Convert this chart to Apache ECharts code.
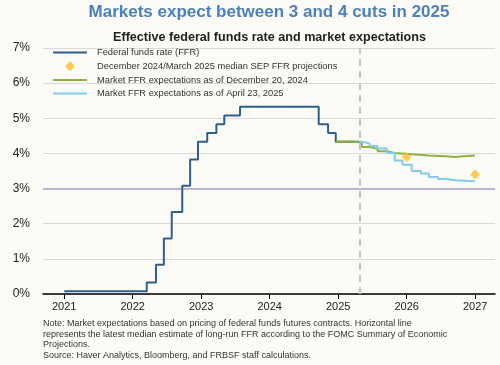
<!DOCTYPE html>
<html><head><meta charset="utf-8">
<script src="https://cdn.jsdelivr.net/npm/echarts@6/dist/echarts.min.js"></script>
<style>html,body{margin:0;padding:0;background:#fcfbf7;}#c{width:500px;height:365px;}</style>
</head><body><div id="c"></div>
<script>
const FONT = '"Liberation Sans", Arial, sans-serif';
const chartTitle = 'Markets expect between 3 and 4 cuts in 2025';
const chartSubtitle = 'Effective federal funds rate and market expectations';
const seriesNames = [
  'Federal funds rate (FFR)',
  'December 2024/March 2025 median SEP FFR projections',
  'Market FFR expectations as of December 20, 2024',
  'Market FFR expectations as of April 23, 2025'
];
const noteLines = [
  'Note: Market expectations based on pricing of federal funds futures contracts. Horizontal line',
  'represents the latest median estimate of long-run FFR according to the FOMC Summary of Economic',
  'Projections.',
  'Source: Haver Analytics, Bloomberg, and FRBSF staff calculations.'
];
const xTickYears = [2021, 2022, 2023, 2024, 2025, 2026, 2027];
const yTickValues = [0, 1, 2, 3, 4, 5, 6, 7];
const longRunRate = 3.0;
const markerDate = '2025-04-23';

const ffrDates = ['2021-01-01','2022-03-17','2022-05-05','2022-06-16','2022-07-28','2022-09-22','2022-11-03','2022-12-15','2023-02-02','2023-03-23','2023-05-04','2023-07-27','2024-09-19','2024-11-08','2024-12-19','2025-04-23'];
const ffrValues = [0.08,0.33,0.83,1.58,2.33,3.08,3.83,4.33,4.58,4.83,5.08,5.33,4.83,4.58,4.33,4.33];

const dec2024Dates = ['2024-12-19','2025-03-19','2025-05-07','2025-06-18','2025-07-30','2025-09-17','2025-10-29','2026-01-28','2026-04-29','2026-07-29','2026-09-16','2026-10-28','2026-12-31'];
const dec2024Values = [4.34,4.30,4.18,4.13,4.06,4.01,3.98,3.94,3.92,3.90,3.92,3.94,3.95];

const apr2025Dates = ['2025-04-23','2025-05-07','2025-06-18','2025-07-30','2025-09-17','2025-10-29','2025-12-10','2026-01-28','2026-03-18','2026-04-29','2026-06-17','2026-07-29','2026-09-16','2026-12-31'];
const apr2025Values = [4.33,4.28,4.21,4.14,4.01,3.80,3.68,3.50,3.43,3.33,3.27,3.24,3.21,3.21];

const sepDates = ['2026-01-01','2027-01-01'];
const sepValues = [3.9, 3.4];

function decYear(s){
  const [y,m,d] = s.split('-').map(Number);
  const t = Date.UTC(y,m-1,d), a = Date.UTC(y,0,1), b = Date.UTC(y+1,0,1);
  return y + (t-a)/(b-a);
}
function pts(dates, vals){ return dates.map((d,i)=>[decYear(d), vals[i]]); }

const colors = {ffr:'#2f5f8f', sep:'#fdc12a', dec:'#8cb43f', apr:'#82cbe9', lr:'#a6a3c8', dash:'#c4c4c4'};
const lineIcon = 'path://M0,0L34,0L34,2L0,2Z';
const diamondIcon = 'path://M5,0L10,5L5,10L0,5Z';

const chart = echarts.init(document.getElementById('c'), null, {renderer:'canvas'});
chart.setOption({
  animation:false,
  backgroundColor:'#fcfbf7',
  textStyle:{fontFamily:FONT},
  grid:{left:43, right:5, top:48, bottom:71},
  legend:{
    orient:'vertical', left:53, top:48, padding:0,
    itemWidth:34, itemHeight:10, itemGap:4.3, symbolKeepAspect:true,
    textStyle:{fontSize:9.3, color:'#333', fontFamily:FONT, padding:[0,0,0,5]},
    data:[
      {name:seriesNames[0], icon:lineIcon},
      {name:seriesNames[1], icon:diamondIcon},
      {name:seriesNames[2], icon:lineIcon},
      {name:seriesNames[3], icon:lineIcon}
    ]
  },
  xAxis:{
    type:'value', min:2020.69, max:2027.29,
    axisLine:{lineStyle:{color:'#000', width:1.5}},
    axisTick:{customValues:xTickYears, length:5, lineStyle:{color:'#000', width:1}},
    axisLabel:{customValues:xTickYears, formatter:v=>String(Math.round(v)), fontSize:11, color:'#222', margin:7, fontFamily:FONT},
    splitLine:{show:false}
  },
  yAxis:{
    type:'value', min:yTickValues[0], max:yTickValues[yTickValues.length-1], interval:1,
    axisLine:{show:false}, axisTick:{show:false},
    axisLabel:{formatter:'{value}%', fontSize:12, color:'#222', margin:13, fontFamily:FONT},
    splitLine:{lineStyle:{color:'#d9d9d9', width:1}}
  },
  series:[
    {
      name:seriesNames[0], type:'line', step:'end', symbol:'none', z:2,
      lineStyle:{color:colors.ffr, width:2}, itemStyle:{color:colors.ffr},
      data:pts(ffrDates, ffrValues),
      markLine:{
        silent:true, symbol:'none', label:{show:false}, z:1,
        data:[
          {yAxis:longRunRate, lineStyle:{color:colors.lr, width:1.6, type:'solid'}},
        ]
      }
    },
    {
      name:seriesNames[1], type:'scatter', symbol:'diamond', symbolSize:10, z:6,
      itemStyle:{color:colors.sep},
      data:pts(sepDates, sepValues)
    },
    {
      name:seriesNames[2], type:'line', step:'end', symbol:'none', z:3,
      lineStyle:{color:colors.dec, width:2}, itemStyle:{color:colors.dec},
      data:pts(dec2024Dates, dec2024Values)
    },
    {
      name:seriesNames[3], type:'line', step:'end', symbol:'none', z:4,
      lineStyle:{color:colors.apr, width:2}, itemStyle:{color:colors.apr},
      data:pts(apr2025Dates, apr2025Values),
      markLine:{
        silent:true, symbol:'none', label:{show:false},
        data:[{xAxis:decYear(markerDate), lineStyle:{color:colors.dash, width:2, type:[7,5]}}]
      }
    }
  ],
  graphic:[
    {type:'text', x:269, y:12, style:{text:chartTitle, align:'center', verticalAlign:'middle', font:'bold 17px '+FONT, fill:'#4a7fc0'}},
    {type:'text', x:269.5, y:37.5, style:{text:chartSubtitle, align:'center', verticalAlign:'middle', font:'bold 12.6px '+FONT, fill:'#222'}},
    {type:'text', left:43, top:318, style:{text:noteLines.join('\n'), font:'9px '+FONT, fill:'#333', lineHeight:10.8}}
  ]
});
</script></body></html>
